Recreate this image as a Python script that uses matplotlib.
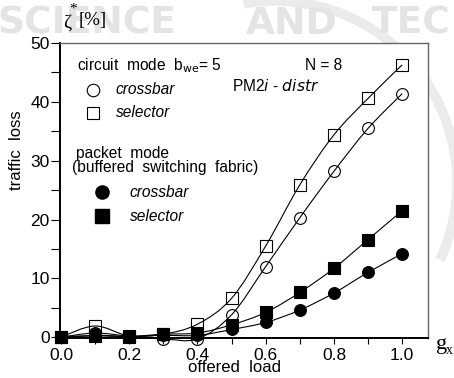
import numpy as np
import matplotlib
matplotlib.use("Agg")
import matplotlib.pyplot as plt
from matplotlib.path import Path
from matplotlib.patches import PathPatch, Arc
from matplotlib.ticker import MultipleLocator

plt.rcParams["font.family"] = ["Liberation Sans", "DejaVu Sans"]

# offered load g_x
load = [0.0, 0.1, 0.2, 0.3, 0.4, 0.5, 0.6, 0.7, 0.8, 0.9, 1.0]

# traffic loss [%]
circ_crossbar = [0.0, 0.3, 0.1, -0.3, -0.3, 3.8, 12.0, 20.3, 28.2, 35.5, 41.4]
circ_selector = [0.0, 1.9, 0.2, 0.5, 2.2, 6.6, 15.5, 25.9, 34.4, 40.6, 46.3]
pack_crossbar = [0.0, 0.7, 0.2, 0.3, 0.3, 1.3, 2.5, 4.6, 7.5, 11.0, 14.2]
pack_selector = [0.0, 0.2, 0.1, 0.5, 0.7, 2.1, 4.2, 7.6, 11.7, 16.6, 21.5]


def smooth_path(xs, ys):
    # Catmull-Rom curve as cubic bezier segments through the data points
    p = np.column_stack([xs, ys]).astype(float)
    ext = np.vstack([p[0], p, p[-1]])
    verts = [p[0]]
    codes = [Path.MOVETO]
    for i in range(len(p) - 1):
        p0, p1, p2, p3 = ext[i], ext[i + 1], ext[i + 2], ext[i + 3]
        verts += [p1 + (p2 - p0) / 6, p2 - (p3 - p1) / 6, p2]
        codes += [Path.CURVE4] * 3
    return Path(verts, codes)


fig = plt.figure(figsize=(4.54, 3.78), dpi=100)

# faint watermark behind the chart (pixel coords, y down)
bg = fig.add_axes([0, 0, 1, 1], zorder=-10)
bg.set_xlim(0, 454)
bg.set_ylim(378, 0)
bg.axis("off")
bg.add_patch(Arc((275, 183), 364, 364, theta1=-100, theta2=25,
                 lw=7, color="#ebebeb"))
wm = dict(fontsize=27, color="#e4e4e4", va="center", family="DejaVu Sans",
          fontweight="semibold")
bg.text(-3, 24, "SCIENCE", **wm)
bg.text(246, 24, "AND", **wm)
bg.text(372, 24, "TEC", **wm)

ax = fig.add_axes([0.132, 0.105, 0.811, 0.781])

for ys, mk, fc in [
    (circ_crossbar, "o", "none"),
    (circ_selector, "s", "none"),
    (pack_crossbar, "o", "black"),
    (pack_selector, "s", "black"),
]:
    ax.add_patch(PathPatch(smooth_path(load, ys), fill=False, lw=0.8,
                           ec="black", clip_on=False))
    ax.plot(load, ys, ls="none", marker=mk, ms=8.5 if mk == "o" else 8.2,
            mfc=fc, mec="black", mew=0.8, clip_on=False)

ax.set_xlim(-0.003, 1.076)
ax.set_ylim(-0.2, 50)
ax.xaxis.set_minor_locator(MultipleLocator(0.1))
ax.yaxis.set_major_locator(MultipleLocator(10))
ax.yaxis.set_minor_locator(MultipleLocator(5))
ax.set_xticks([0.0, 0.2, 0.4, 0.6, 0.8, 1.0])
ax.set_xticklabels(["0.0", "0.2", "0.4", "0.6", "0.8", "1.0"])
ax.tick_params(axis="x", which="both", direction="out", length=4.5, width=0.8,
               labelsize=12.5, pad=2.5)
ax.tick_params(axis="y", which="both", direction="out", length=6.5, width=0.8,
               labelsize=12.5, pad=1)
for s in ["left", "bottom"]:
    ax.spines[s].set_linewidth(1.4)
for s in ["top", "right"]:
    ax.spines[s].set_linewidth(1.0)
    ax.spines[s].set_color("#666666")

fig.text(235 / 454, 1 - 368 / 378, "offered  load", fontsize=12,
         ha="center", va="center")
fig.text(17 / 454, 1 - 150 / 378, "traffic  loss", fontsize=12,
         rotation=90, ha="center", va="center")

fig.text(63 / 454, 1 - 23 / 378, "ζ", fontsize=14, family="Liberation Serif",
         ha="left", va="center")
fig.text(69 / 454, 1 - 9 / 378, "*", fontsize=11, family="Liberation Serif",
         ha="left", va="center")
fig.text(79 / 454, 1 - 21 / 378, "[%]", fontsize=13.5,
         family="Liberation Serif", ha="left", va="center")
fig.text(436 / 454, 1 - 345 / 378, "g", fontsize=16, family="Liberation Serif",
         ha="left", va="center")
fig.text(446 / 454, 1 - 350 / 378, "x", fontsize=10, family="Liberation Serif",
         ha="left", va="center")

tx = dict(transform=ax.transAxes, fontsize=11.2, va="center")
ax.text(0.047, 0.923, r"circuit  mode  b$_{\rm we}$= 5", **tx)
ax.text(0.666, 0.923, "N = 8", **tx)
ax.text(0.467, 0.855, "PM2$\\it{i}$ - $\\it{distr}$", **tx)
ax.text(0.152, 0.842, "crossbar", style="italic", **tx)
ax.text(0.152, 0.764, "selector", style="italic", **tx)
ax.text(0.043, 0.627, "packet  mode", **tx)
ax.text(0.033, 0.58, "(buffered  switching  fabric)", **tx)
ax.text(0.19, 0.495, "crossbar", style="italic", **tx)
ax.text(0.19, 0.414, "selector", style="italic", **tx)
ax.plot([0.09], [0.842], "o", ms=9, mfc="none", mec="black", mew=0.8,
        transform=ax.transAxes)
ax.plot([0.09], [0.764], "s", ms=9, mfc="none", mec="black", mew=0.8,
        transform=ax.transAxes)
ax.plot([0.114], [0.495], "o", ms=9.5, color="black", transform=ax.transAxes)
ax.plot([0.114], [0.414], "s", ms=9.5, color="black", transform=ax.transAxes)

fig.savefig("out.png", dpi=100)
